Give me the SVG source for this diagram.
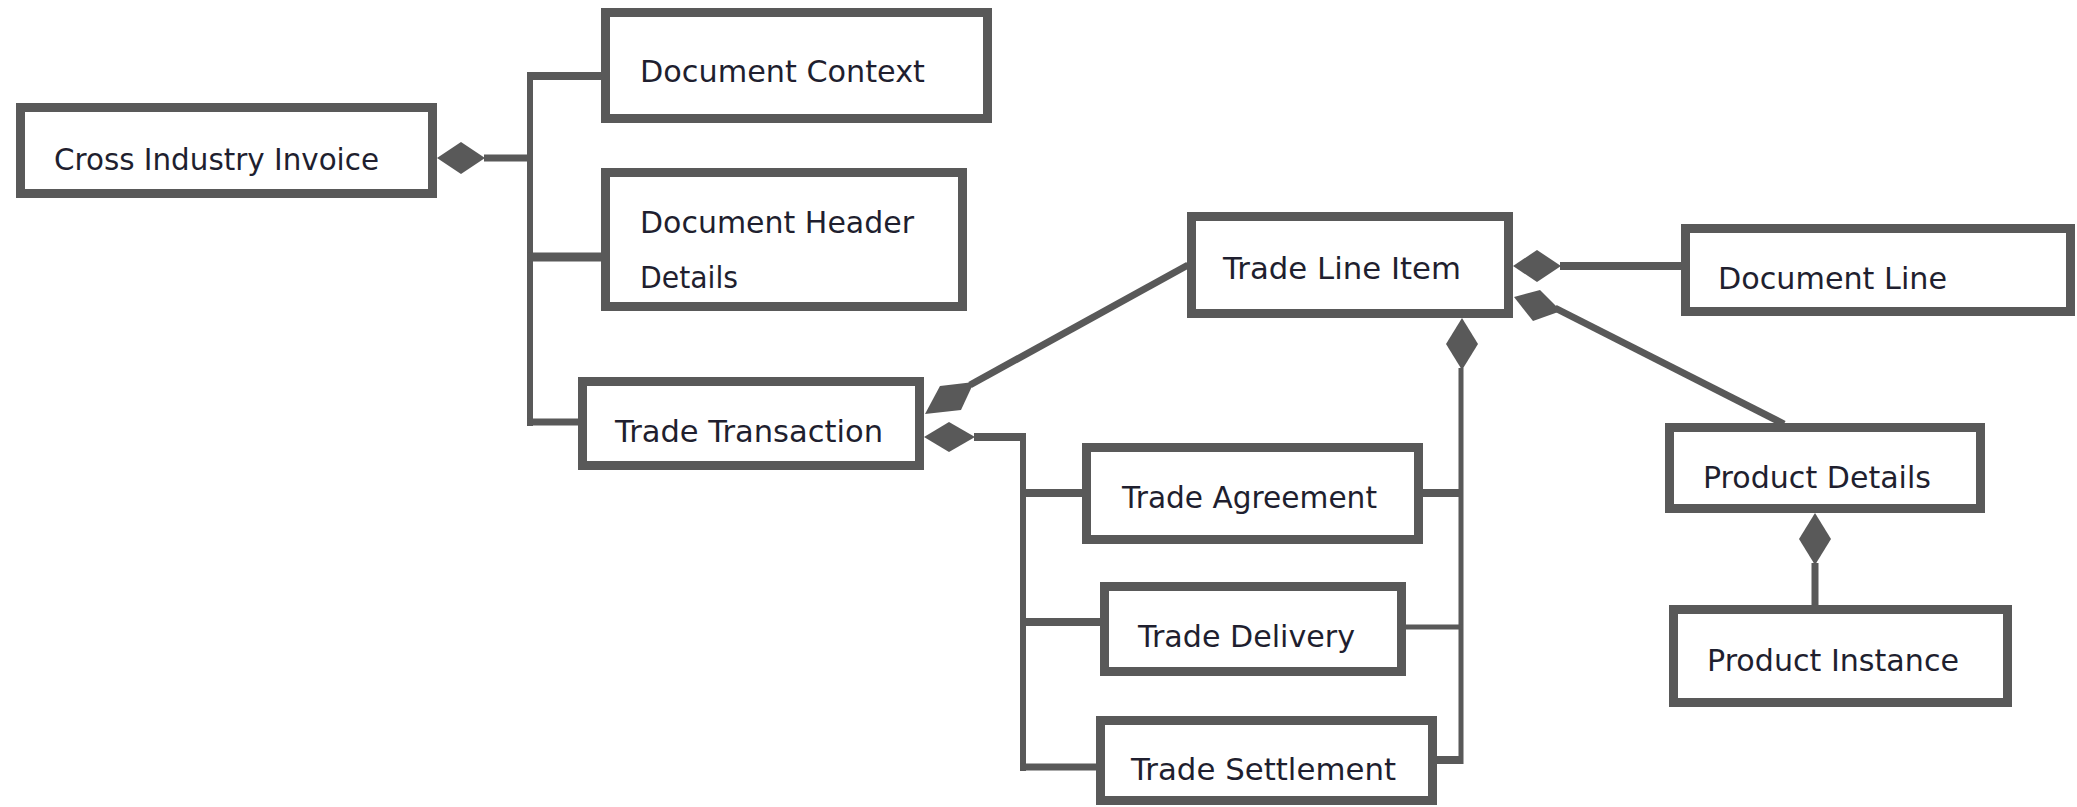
<svg xmlns="http://www.w3.org/2000/svg" width="2077" height="807" viewBox="0 0 2077 807">
<style>
.box{fill:#ffffff;stroke:#595959;stroke-width:9}
.lbl{font-family:"DejaVu Sans","Liberation Sans",sans-serif;font-size:31px;fill:#1f1f2f}
.ln{stroke:#595959;fill:none;stroke-linecap:butt}
.dm{fill:#595959;stroke:none}
</style>
<rect width="2077" height="807" fill="#ffffff"/>
<g id="connectors">
  <!-- Cross Industry Invoice composition -->
  <path class="dm" d="M437,158 L461,142 L485,158 L461,174 Z"/>
  <line class="ln" x1="484" y1="158" x2="533" y2="158" stroke-width="7"/>
  <line class="ln" x1="530" y1="72" x2="530" y2="426" stroke-width="6"/>
  <line class="ln" x1="527" y1="76" x2="602" y2="76" stroke-width="8"/>
  <line class="ln" x1="527" y1="257" x2="602" y2="257" stroke-width="9"/>
  <line class="ln" x1="527" y1="422" x2="579" y2="422" stroke-width="7"/>
  <!-- Trade Transaction to Trade Line Item -->
  <path class="dm" d="M925,414 L940,386 L974,382 L961,410 Z"/>
  <line class="ln" x1="970" y1="385" x2="1188" y2="265" stroke-width="7"/>
  <!-- Trade Transaction composition -->
  <path class="dm" d="M924,437 L949,422 L975,437 L949,452 Z"/>
  <line class="ln" x1="974" y1="437" x2="1026" y2="437" stroke-width="8"/>
  <line class="ln" x1="1023" y1="433" x2="1023" y2="771" stroke-width="6"/>
  <line class="ln" x1="1020" y1="493" x2="1083" y2="493" stroke-width="8"/>
  <line class="ln" x1="1020" y1="622" x2="1101" y2="622" stroke-width="8"/>
  <line class="ln" x1="1020" y1="767" x2="1097" y2="767" stroke-width="7"/>
  <!-- Trade Line Item to Document Line -->
  <path class="dm" d="M1513,266 L1537,250 L1561,266 L1537,282 Z"/>
  <line class="ln" x1="1560" y1="266" x2="1682" y2="266" stroke-width="8"/>
  <!-- Trade Line Item to Product Details -->
  <path class="dm" d="M1514,297 L1540,290 L1561,311 L1533,321 Z"/>
  <line class="ln" x1="1555" y1="308" x2="1784" y2="424" stroke-width="7"/>
  <!-- Trade Line Item to Agreement/Delivery/Settlement -->
  <path class="dm" d="M1462,318 L1478,344 L1462,370 L1446,344 Z"/>
  <line class="ln" x1="1461" y1="368" x2="1461" y2="764" stroke-width="5"/>
  <line class="ln" x1="1422" y1="493" x2="1463" y2="493" stroke-width="8"/>
  <line class="ln" x1="1405" y1="627" x2="1463" y2="627" stroke-width="5"/>
  <line class="ln" x1="1436" y1="760" x2="1463" y2="760" stroke-width="8"/>
  <!-- Product Details to Product Instance -->
  <path class="dm" d="M1815,513 L1831,539 L1815,565 L1799,539 Z"/>
  <line class="ln" x1="1815" y1="563" x2="1815" y2="606" stroke-width="7"/>
</g>
<g id="cross-industry-invoice">
  <rect class="box" x="20.5" y="107.5" width="412" height="86"/>
  <text class="lbl" x="54" y="170" textLength="325" lengthAdjust="spacingAndGlyphs">Cross Industry Invoice</text>
</g>
<g id="document-context">
  <rect class="box" x="605.5" y="12.5" width="382" height="106"/>
  <text class="lbl" x="640" y="82" textLength="285" lengthAdjust="spacingAndGlyphs">Document Context</text>
</g>
<g id="document-header-details">
  <rect class="box" x="605.5" y="172.5" width="357" height="134"/>
  <text class="lbl" x="640" y="233" textLength="274" lengthAdjust="spacingAndGlyphs">Document Header</text>
  <text class="lbl" x="640" y="288" textLength="98" lengthAdjust="spacingAndGlyphs">Details</text>
</g>
<g id="trade-transaction">
  <rect class="box" x="582.5" y="381.5" width="337" height="84"/>
  <text class="lbl" x="615" y="442" textLength="268" lengthAdjust="spacingAndGlyphs">Trade Transaction</text>
</g>
<g id="trade-line-item">
  <rect class="box" x="1191.5" y="216.5" width="317" height="97"/>
  <text class="lbl" x="1223" y="279" textLength="238" lengthAdjust="spacingAndGlyphs">Trade Line Item</text>
</g>
<g id="document-line">
  <rect class="box" x="1685.5" y="228.5" width="385" height="83"/>
  <text class="lbl" x="1718" y="289" textLength="229" lengthAdjust="spacingAndGlyphs">Document Line</text>
</g>
<g id="trade-agreement">
  <rect class="box" x="1086.5" y="447.5" width="332" height="92"/>
  <text class="lbl" x="1122" y="508" textLength="255" lengthAdjust="spacingAndGlyphs">Trade Agreement</text>
</g>
<g id="trade-delivery">
  <rect class="box" x="1104.5" y="586.5" width="297" height="85"/>
  <text class="lbl" x="1138" y="647" textLength="217" lengthAdjust="spacingAndGlyphs">Trade Delivery</text>
</g>
<g id="trade-settlement">
  <rect class="box" x="1100.5" y="720.5" width="332" height="80"/>
  <text class="lbl" x="1131" y="780" textLength="265" lengthAdjust="spacingAndGlyphs">Trade Settlement</text>
</g>
<g id="product-details">
  <rect class="box" x="1669.5" y="427.5" width="311" height="81"/>
  <text class="lbl" x="1703" y="488" textLength="228" lengthAdjust="spacingAndGlyphs">Product Details</text>
</g>
<g id="product-instance">
  <rect class="box" x="1673.5" y="609.5" width="334" height="93"/>
  <text class="lbl" x="1707" y="671" textLength="252" lengthAdjust="spacingAndGlyphs">Product Instance</text>
</g>
</svg>
